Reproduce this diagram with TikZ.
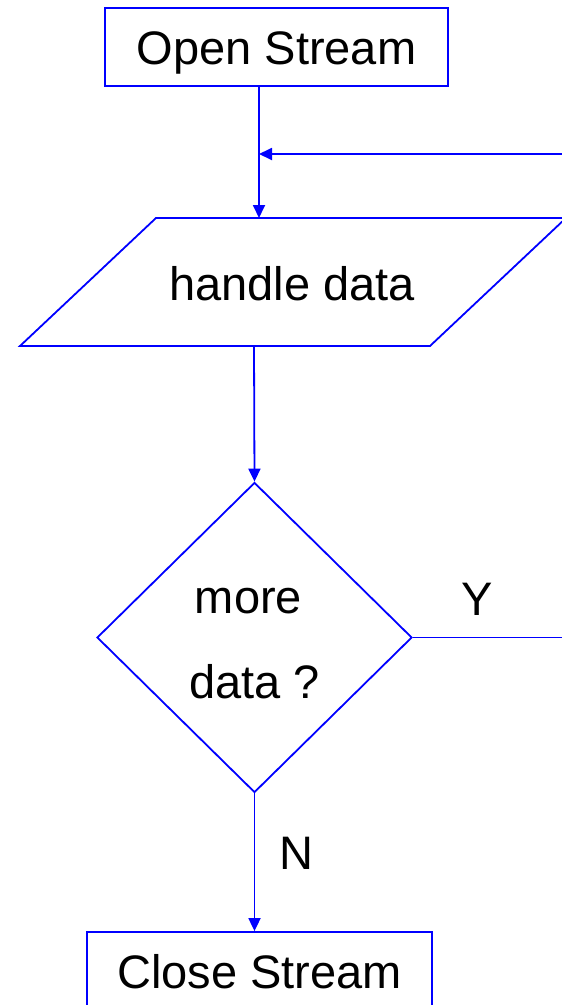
\documentclass[tikz,border=0pt]{standalone}
\usepackage{fontspec}
\setmainfont{Liberation Sans}
\usetikzlibrary{shapes.geometric,arrows.meta,calc}
\definecolor{flowblue}{RGB}{0,0,255}
\begin{document}
\begin{tikzpicture}[x=1pt,y=-1pt,
  flow/.style={draw=flowblue,line width=1.8pt},
  arr/.style={flow,-{Triangle[length=13pt,width=12pt]}},
  txt/.style={font=\fontsize{47}{56}\selectfont,text=black,inner sep=0pt,text height=34pt,text depth=0pt},
  proc/.style={flow,txt,rectangle},
]
\useasboundingbox (0,0) rectangle (562,1005);
\clip (0,0) rectangle (562,1005);

% start box
\node[proc,minimum width=343pt,minimum height=78pt] (open) at (276.5,47) {Open Stream};

% loop return joins the main line here
\coordinate (join) at (259,154);
\coordinate (loopin) at (566,154);

% input/output parallelogram
\coordinate (hdtl) at (156,218);
\coordinate (hdtr) at (566,218);
\coordinate (hdbr) at (430,346);
\coordinate (hdbl) at (20,346);
\coordinate (hdout) at (254,346);
\draw[flow] (hdtl) -- (hdtr) -- (hdbr) -- (hdbl) -- cycle;
\node[txt] (hd) at (292,283) {handle data};

% decision
\node[flow,diamond,minimum width=315pt,minimum height=310pt,inner sep=0pt,
      align=center,text=black,font=\fontsize{47}{85}\selectfont] (dec) at (254.5,637.5)
      {\rule{0pt}{37pt}more\hspace*{12pt}\\data ?};
\coordinate (loopout) at (566,637.5);

% end box
\node[proc,minimum width=345pt,minimum height=78pt] (close) at (259.5,971) {Close Stream};

% branch labels
\node[txt] (ylab) at (477,598) {Y};
\node[txt] (nlab) at (296,852) {N};

% connectors
\draw[arr] (open.south -| join) -- (join |- hdtl);
\draw[arr] (loopin) -- (join);
\draw[arr] (hdout) -- (dec.north);
\draw[flow] (dec.east) -- (loopout);
\draw[arr] (dec.south) -- (dec.south |- close.north);
\end{tikzpicture}
\end{document}
